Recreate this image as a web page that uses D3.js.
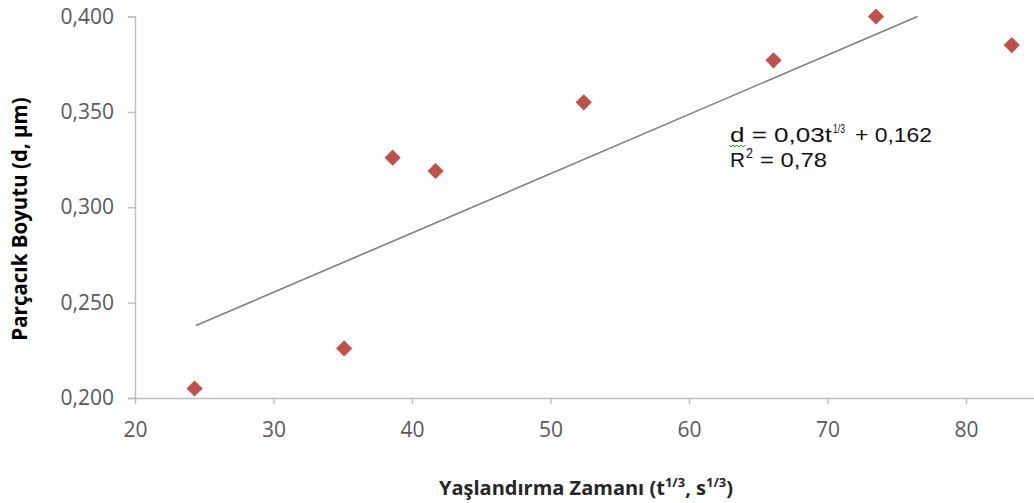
<!DOCTYPE html>
<html>
<head>
<meta charset="utf-8">
<script src="https://cdn.jsdelivr.net/npm/d3@7/dist/d3.min.js"></script>
<style>
  html, body { margin: 0; padding: 0; background: #fff; }
  svg { display: block; }
</style>
</head>
<body>
<svg id="chart" width="1034" height="503"></svg>
<script>
// Aging time (t^1/3) vs particle size
const agingTime = [24.3, 35.1, 38.6, 41.7, 52.4, 66.1, 73.5, 83.3];
const particleSize = [0.205, 0.226, 0.326, 0.319, 0.355, 0.377, 0.400, 0.385];

// Linear trend line end points
const trendX = [24.4, 76.5];
const trendY = [0.238, 0.400];

const xTicks = [20, 30, 40, 50, 60, 70, 80];
const yTicks = [0.200, 0.250, 0.300, 0.350, 0.400];

const svg = d3.select("#chart");
const plotLeft = 135, plotTop = 16.5, plotBottom = 398;

const x = d3.scaleLinear().domain([20, 85]).range([plotLeft, plotLeft + 65 * 13.85]);
const y = d3.scaleLinear().domain([0.2, 0.4]).range([plotBottom, plotTop]);

const fmtY = v => d3.format(".3f")(v).replace(".", ",");
const axisColor = "#bfbfbf";
const tickText = "#595959";

// Y axis
const yAxis = svg.append("g")
  .attr("transform", `translate(${plotLeft},0)`)
  .call(d3.axisLeft(y).tickValues(yTicks).tickFormat(fmtY).tickSize(7).tickPadding(14));
yAxis.select(".domain").attr("stroke", axisColor).attr("stroke-width", 1.5);
yAxis.selectAll(".tick line").attr("stroke", axisColor).attr("stroke-width", 1.5);
yAxis.selectAll(".tick text")
  .attr("fill", tickText)
  .attr("font-family", "Open Sans, sans-serif")
  .attr("font-size", 21);

// X axis
const xAxis = svg.append("g")
  .attr("transform", `translate(0,${plotBottom})`)
  .call(d3.axisBottom(x).tickValues(xTicks).tickFormat(d3.format("d")).tickSize(6).tickSizeOuter(0).tickPadding(18));
xAxis.select(".domain").attr("stroke", axisColor).attr("stroke-width", 1.5);
xAxis.selectAll(".tick line").attr("stroke", axisColor).attr("stroke-width", 1.5);
xAxis.selectAll(".tick text")
  .attr("fill", tickText)
  .attr("font-family", "Open Sans, sans-serif")
  .attr("font-size", 21);

// Trend line
svg.append("line")
  .attr("x1", x(trendX[0])).attr("y1", y(trendY[0]))
  .attr("x2", x(trendX[1])).attr("y2", y(trendY[1]))
  .attr("stroke", "#7f7f7f")
  .attr("stroke-width", 1.6);

// Data points as diamonds
const diamond = d3.symbol().type(d3.symbolSquare).size(130);
svg.append("g").selectAll("path")
  .data(agingTime.map((t, i) => [t, particleSize[i]]))
  .join("path")
  .attr("d", diamond)
  .attr("transform", d => `translate(${x(d[0])},${y(d[1])}) rotate(45)`)
  .attr("fill", "#c0504d");

// Regression equation, laid out piece by piece
const eqPieces = [
  { t: "d = 0,03t", x: 730, y: 142, size: 21, len: 102 },
  { t: "1/3",       x: 833, y: 133, size: 13.5, len: 12 },
  { t: "+ 0,162",   x: 855, y: 142, size: 21, len: 77 },
  { t: "R",         x: 730, y: 167, size: 21, len: 15 },
  { t: "2",         x: 746, y: 158, size: 14, len: 7 },
  { t: "= 0,78",    x: 760, y: 167, size: 21, len: 67 }
];
svg.append("g")
  .attr("font-family", "Liberation Sans, Arial, sans-serif")
  .attr("fill", "#111")
  .selectAll("text")
  .data(eqPieces)
  .join("text")
  .attr("x", d => d.x)
  .attr("y", d => d.y)
  .attr("font-size", d => d.size)
  .attr("textLength", d => d.len)
  .attr("lengthAdjust", "spacingAndGlyphs")
  .text(d => d.t);

// Spell-check squiggle under "d"
svg.append("path")
  .attr("d", "M729,145 l2,2 l2,-2 l2,2 l2,-2 l2,2 l2,-2 l2,2 l2,-2")
  .attr("fill", "none")
  .attr("stroke", "#3a9a3a")
  .attr("stroke-width", 1);

// Axis titles
svg.append("text")
  .attr("transform", `translate(27,219) rotate(-90)`)
  .attr("text-anchor", "middle")
  .attr("font-family", "Open Sans, sans-serif")
  .attr("font-weight", "bold")
  .attr("font-size", 20.5)
  .attr("fill", "#000")
  .text("Parçacık Boyutu (d, µm)");

const xt = svg.append("text")
  .attr("x", 586).attr("y", 495)
  .attr("text-anchor", "middle")
  .attr("font-family", "Open Sans, sans-serif")
  .attr("font-weight", "bold")
  .attr("font-size", 20)
  .attr("fill", "#262626");
xt.append("tspan").text("Yaşlandırma Zamanı (t");
xt.append("tspan").attr("font-size", 13).attr("dy", -8).text("1/3");
xt.append("tspan").attr("font-size", 20).attr("dy", 8).text(", s");
xt.append("tspan").attr("font-size", 13).attr("dy", -8).text("1/3");
xt.append("tspan").attr("font-size", 20).attr("dy", 8).text(")");
</script>
</body>
</html>
